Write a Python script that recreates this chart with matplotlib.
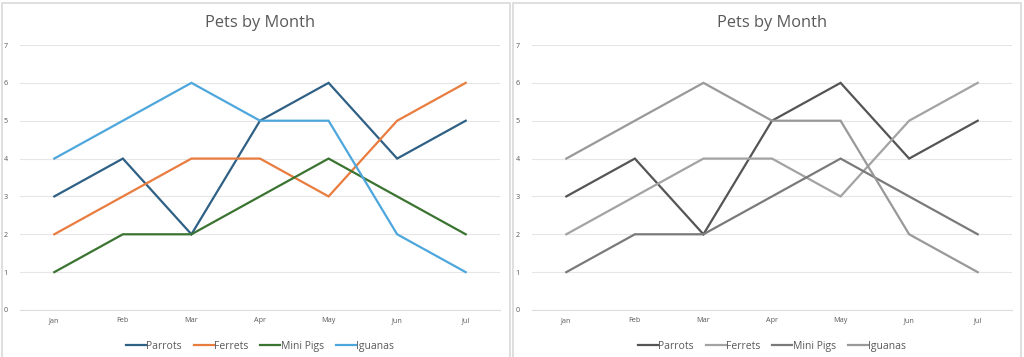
import numpy as np
import matplotlib
matplotlib.use("Agg")
import matplotlib.pyplot as plt
from matplotlib.patches import Rectangle

plt.rcParams['font.family'] = ['Open Sans', 'DejaVu Sans']

# data
months = ['Jan', 'Feb', 'Mar', 'Apr', 'May', 'Jun', 'Jul']
series_names = ['Parrots', 'Ferrets', 'Mini Pigs', 'Iguanas']
parrots = [3, 4, 2, 5, 6, 4, 5]
ferrets = [2, 3, 4, 4, 3, 5, 6]
mini_pigs = [1, 2, 2, 3, 4, 3, 2]
iguanas = [4, 5, 6, 5, 5, 2, 1]
y_ticks = [0, 1, 2, 3, 4, 5, 6, 7]

colour_set = ['#2F6085', '#E97C3F', '#3A7430', '#4EA7DC']
grey_set = ['#555555', '#A3A3A3', '#7A7A7A', '#999999']

W, H = 1024, 357
fig = plt.figure(figsize=(W / 100, H / 100), dpi=100)

# panel frames (pixel coords -> figure fraction), bottom edge runs off the image
for x0, x1 in [(2, 510), (513, 1021)]:
    fig.patches.append(Rectangle((x0 / W, -0.05), (x1 - x0) / W, (H - 3) / H + 0.05,
                                 transform=fig.transFigure, facecolor='white',
                                 edgecolor='#D9D9D9', linewidth=1.2, zorder=-5))


def draw_chart(left_px, colours):
    ax = fig.add_axes([left_px / W, (H - 310) / H, 480 / W, 265 / H])
    ax.set_facecolor('none')
    x = np.arange(len(months))
    for vals, name, c in zip([parrots, ferrets, mini_pigs, iguanas], series_names, colours):
        ax.plot(x, vals, color=c, linewidth=1.6, label=name, solid_joinstyle='miter')
    ax.set_xlim(-0.5, len(months) - 0.5)
    ax.set_ylim(0, 7)
    ax.set_yticks(y_ticks)
    ax.set_xticks(x)
    ax.set_xticklabels(months)
    ax.grid(axis='y', color='#E6E6E6', linewidth=0.8)
    ax.set_axisbelow(True)
    for s in ['top', 'right', 'left']:
        ax.spines[s].set_visible(False)
    ax.spines['bottom'].set_color('#DDDDDD')
    ax.spines['bottom'].set_linewidth(0.8)
    ax.tick_params(axis='both', length=0, labelsize=5.2, labelcolor='#595959')
    ax.tick_params(axis='y', pad=9)
    ax.tick_params(axis='x', pad=5)
    ax.set_title('Pets by Month', fontsize=11.8, color='#595959', pad=13)
    leg = ax.legend(loc='upper center', bbox_to_anchor=(0.5, -0.08), ncol=4,
                    frameon=False, fontsize=7.5, handlelength=1.9,
                    handletextpad=0.05, columnspacing=1.15)
    for t in leg.get_texts():
        t.set_color('#595959')
    return ax


draw_chart(20, colour_set)
draw_chart(532, grey_set)

plt.savefig('out.png', dpi=100, facecolor='white')
